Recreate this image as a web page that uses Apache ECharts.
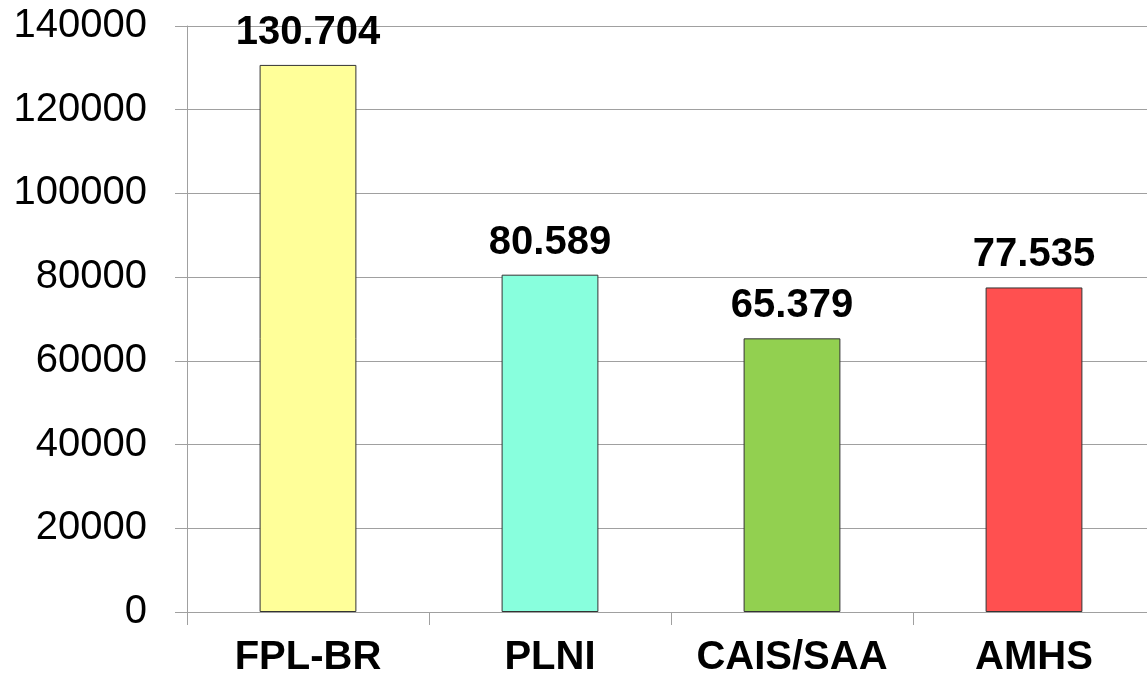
<!DOCTYPE html>
<html>
<head>
<meta charset="utf-8">
<script src="https://cdn.jsdelivr.net/npm/echarts@6/dist/echarts.min.js"></script>
<style>
html,body{margin:0;padding:0;background:#fff;overflow:hidden;width:1147px;height:682px;}
#chart{width:1155px;height:682px;}
</style>
</head>
<body>
<div id="chart"></div>
<script>
const categories = ['FPL-BR', 'PLNI', 'CAIS/SAA', 'AMHS'];
const values = [130704, 80589, 65379, 77535];
const barColors = ['#FFFF99', '#88FFDD', '#92D050', '#FF5050'];

function fmt(v) {
  return String(v).replace(/\B(?=(\d{3})+(?!\d))/g, '.');
}

const chart = echarts.init(document.getElementById('chart'));
chart.setOption({
  animation: false,
  backgroundColor: '#ffffff',
  grid: { left: 187, right: 0, top: 26, bottom: 70, containLabel: false },
  xAxis: {
    type: 'category',
    data: categories,
    axisLine: { show: true, lineStyle: { color: '#a0a0a0', width: 1 } },
    axisTick: { show: true, length: 13, interval: 0, alignWithLabel: false, lineStyle: { color: '#a0a0a0' } },
    axisLabel: { margin: 26, interval: 0, fontFamily: 'Liberation Sans, Arial, sans-serif', fontSize: 40, fontWeight: 'bold', color: '#000' },
    splitLine: { show: false }
  },
  yAxis: {
    type: 'value',
    min: 0, max: 140000, interval: 20000,
    axisLine: { show: true, lineStyle: { color: '#a0a0a0', width: 1 } },
    axisTick: { show: true, length: 12, lineStyle: { color: '#a0a0a0' } },
    axisLabel: { margin: 40, fontFamily: 'Liberation Sans, Arial, sans-serif', fontSize: 40, color: '#000', formatter: v => String(v) },
    splitLine: { show: true, lineStyle: { color: '#a0a0a0', width: 1 } }
  },
  series: [{
    type: 'bar',
    barWidth: '40%',
    data: values.map((v, i) => ({ value: v, itemStyle: { color: barColors[i] } })),
    itemStyle: { borderColor: '#333333', borderWidth: 1 },
    label: {
      show: true, position: 'top', distance: 12,
      fontFamily: 'Liberation Sans, Arial, sans-serif', fontSize: 40, fontWeight: 'bold', color: '#000',
      formatter: p => fmt(p.value)
    }
  }]
});
</script>
</body>
</html>
